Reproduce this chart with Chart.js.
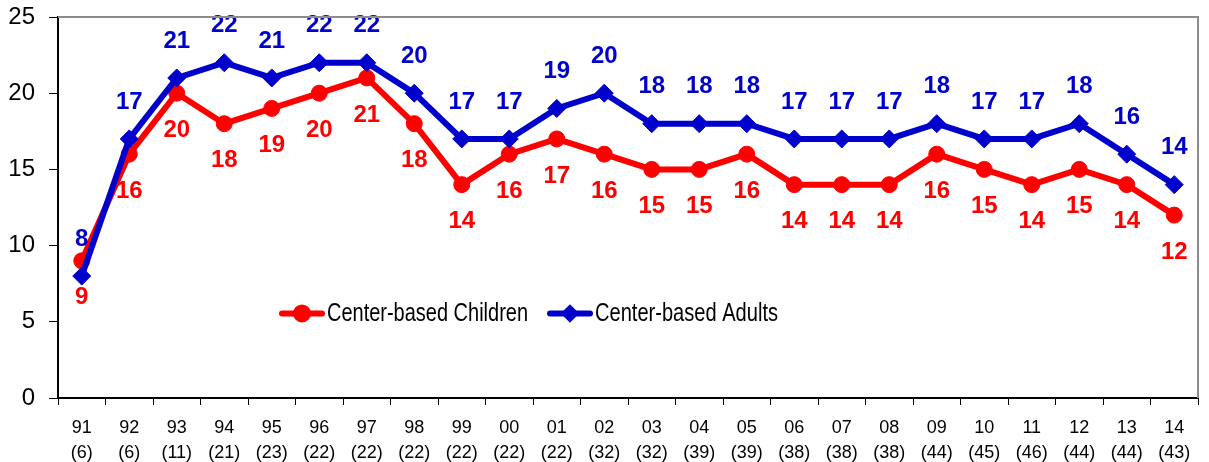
<!DOCTYPE html>
<html>
<head>
<meta charset="utf-8">
<script src="https://cdn.jsdelivr.net/npm/chart.js@4/dist/chart.umd.min.js"></script>
<style>
  body { margin: 0; background: #fff; }
  canvas { display: block; }
</style>
</head>
<body>
<canvas id="chart" width="1209" height="462"></canvas>
<script>
const years = ["91", "92", "93", "94", "95", "96", "97", "98", "99", "00", "01", "02",
  "03", "04", "05", "06", "07", "08", "09", "10", "11", "12", "13", "14"];
const counts = ["(6)", "(6)", "(11)", "(21)", "(23)", "(22)", "(22)", "(22)", "(22)", "(22)", "(22)", "(32)",
  "(32)", "(39)", "(39)", "(38)", "(38)", "(38)", "(44)", "(45)", "(46)", "(44)", "(44)", "(43)"];
const children = [9, 16, 20, 18, 19, 20, 21, 18, 14, 16, 17, 16, 15, 15, 16, 14, 14, 14, 16, 15, 14, 15, 14, 12];
const adults = [8, 17, 21, 22, 21, 22, 22, 20, 17, 17, 19, 20, 18, 18, 18, 17, 17, 17, 18, 17, 17, 18, 16, 14];

const RED = "#ff0000";
const BLUE = "#0000cc";
const FONT = "'Liberation Sans', Arial, sans-serif";

const labels = years.map((y, i) => [y, counts[i]]);

// value labels: children below the point, adults above
const valueLabels = {
  id: "valueLabels",
  afterDatasetsDraw(chart) {
    const ctx = chart.ctx;
    ctx.save();
    ctx.font = "bold 24px " + FONT;
    ctx.textAlign = "center";
    ctx.textBaseline = "middle";
    chart.data.datasets.forEach((ds, i) => {
      const meta = chart.getDatasetMeta(i);
      const dy = ds.labelSide === "below" ? 37 : -37;
      ctx.fillStyle = ds.borderColor;
      meta.data.forEach((pt, j) => {
        ctx.fillText(String(ds.data[j]), pt.x, pt.y + dy);
      });
    });
    ctx.restore();
  }
};

// gray frame on top and right, legend inside the plot
const frameAndLegend = {
  id: "frameAndLegend",
  afterDraw(chart) {
    const ctx = chart.ctx;
    const a = chart.chartArea;
    ctx.save();
    ctx.strokeStyle = "#8c8c8c";
    ctx.lineWidth = 2;
    ctx.beginPath();
    ctx.moveTo(a.left, a.top);
    ctx.lineTo(a.right, a.top);
    ctx.lineTo(a.right, a.bottom);
    ctx.stroke();

    const ly = chart.scales.y.getPixelForValue(5.55);
    const items = [
      { text: "Center-based Children", color: RED, style: "circle", x: a.left + 222, w: 201 },
      { text: "Center-based Adults", color: BLUE, style: "rectRot", x: a.left + 490, w: 183 }
    ];
    items.forEach(it => {
      ctx.strokeStyle = it.color;
      ctx.fillStyle = it.color;
      ctx.lineWidth = 6;
      ctx.lineCap = "round";
      ctx.beginPath();
      ctx.moveTo(it.x + 2, ly);
      ctx.lineTo(it.x + 42, ly);
      ctx.stroke();
      Chart.helpers.drawPoint(ctx, { pointStyle: it.style, radius: it.style === "circle" ? 6 : 5, borderWidth: 1 }, it.x + 22, ly);
      ctx.fill();
      ctx.fillStyle = "#000";
      ctx.font = "25px " + FONT;
      ctx.textAlign = "left";
      ctx.textBaseline = "middle";
      ctx.fillText(it.text, it.x + 47, ly + 1, it.w);
    });
    ctx.restore();
  }
};

new Chart(document.getElementById("chart"), {
  type: "line",
  data: {
    labels: labels,
    datasets: [
      {
        label: "Center-based Children",
        data: children,
        borderColor: RED,
        backgroundColor: RED,
        borderWidth: 6,
        pointStyle: "circle",
        pointRadius: 8,
        pointHoverRadius: 8,
        pointBorderWidth: 1,
        labelSide: "below",
        order: 1,
        clip: false
      },
      {
        label: "Center-based Adults",
        data: adults,
        borderColor: BLUE,
        backgroundColor: BLUE,
        borderWidth: 6,
        pointStyle: "rectRot",
        pointRadius: 9,
        pointHoverRadius: 9,
        pointBorderWidth: 1,
        labelSide: "above",
        order: 0,
        clip: false
      }
    ]
  },
  options: {
    responsive: false,
    animation: false,
    layout: { padding: { top: 17, right: 11, left: 0, bottom: 0 } },
    plugins: {
      legend: { display: false },
      tooltip: { enabled: false }
    },
    scales: {
      x: {
        offset: true,
        grid: { offset: true, drawOnChartArea: false, tickLength: 7, color: "#000", lineWidth: 1 },
        border: { color: "#000", width: 2 },
        ticks: {
          color: "#000",
          font: { family: FONT, size: 18, lineHeight: 1.4 },
          padding: 10,
          maxRotation: 0,
          autoSkip: false
        },
        afterFit(scale) { scale.height = 64; }
      },
      y: {
        min: 0,
        max: 25,
        grid: { drawOnChartArea: false, tickLength: 9, color: "#000", lineWidth: 1 },
        border: { color: "#000", width: 2 },
        ticks: {
          stepSize: 5,
          color: "#000",
          // small lineHeight keeps the top label from pushing the plot down
          font: { family: FONT, size: 24, lineHeight: 0.2 },
          padding: 14
        },
        afterFit(scale) { scale.width = 58; }
      }
    }
  },
  plugins: [valueLabels, frameAndLegend]
});
</script>
</body>
</html>
